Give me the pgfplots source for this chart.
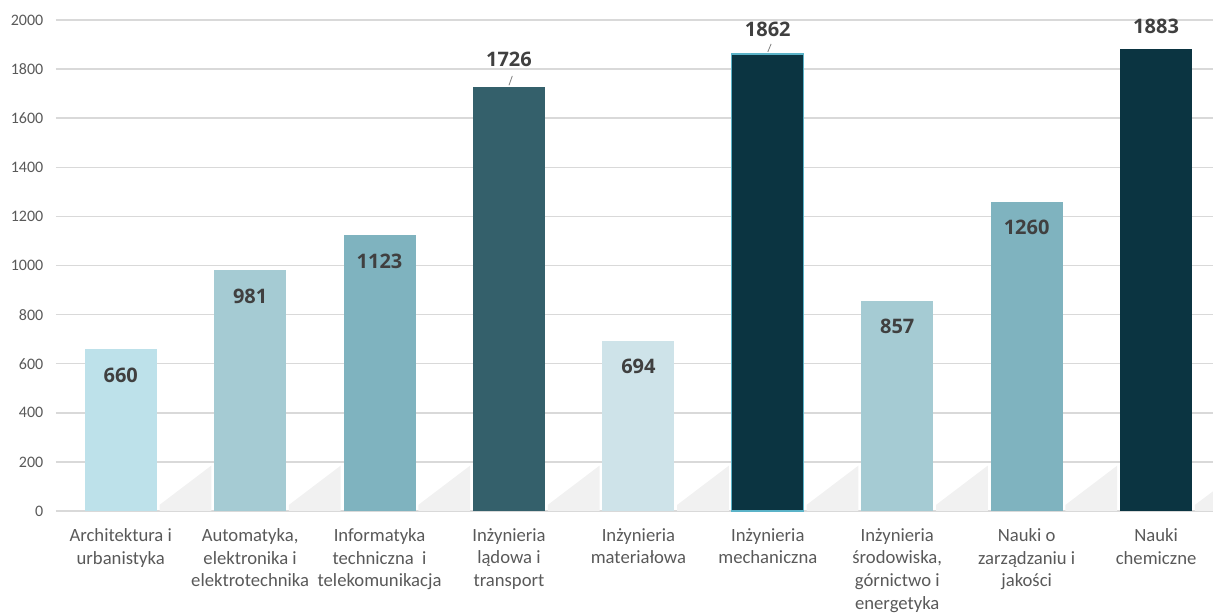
\documentclass[border=0pt]{standalone}
\usepackage{fontspec}
\setmainfont{Carlito}
\newfontfamily\valfont{Open Sans}
\usepackage{pgfplots}
\pgfplotsset{compat=1.18}
\definecolor{c1}{HTML}{BDE1EA}
\definecolor{c2}{HTML}{A5CBD3}
\definecolor{c3}{HTML}{7FB3BF}
\definecolor{c4}{HTML}{34606B}
\definecolor{c5}{HTML}{CEE3E9}
\definecolor{c6}{HTML}{0B3441}
\definecolor{cedge}{HTML}{5BB3C8}
\definecolor{gridgray}{HTML}{D9D9D9}
\definecolor{shadow}{HTML}{F1F1F1}
\definecolor{tickgray}{HTML}{595959}
\definecolor{valgray}{HTML}{404040}
\begin{document}
\begin{tikzpicture}
\begin{axis}[
  at={(0,0)}, anchor=south west,
  scale only axis, width=867.75pt, height=368.25pt,
  xmin=-0.5, xmax=8.44, ymin=0, ymax=2000,
  ytick={0,200,...,2000},
  xtick={0,...,8},
  xticklabels={{Architektura i\\urbanistyka},{Automatyka,\\elektronika i\\elektrotechnika},{Informatyka\\techniczna~ i\\telekomunikacja},{Inżynieria\\lądowa i\\transport},{Inżynieria\\materiałowa},{Inżynieria\\mechaniczna},{Inżynieria\\środowiska,\\górnictwo i\\energetyka},{Nauki o\\zarządzaniu i\\jakości},{Nauki\\chemiczne}},
  axis line style={draw=none},
  major tick length=0pt,
  ymajorgrids, grid style={draw=gridgray, line width=1.1pt},
  /pgf/number format/assume math mode=true,
  /pgf/number format/1000 sep={},
  yticklabel style={font=\fontsize{12}{14}\selectfont, text=tickgray, xshift=-6pt},
  xticklabel style={font=\fontsize{14}{17}\selectfont, text=tickgray, align=center, yshift=-9.5pt, inner xsep=0pt},
  ybar, bar width=54pt, bar shift=0pt,
  every node near coord/.append style={font=\valfont\bfseries\fontsize{15}{18}\selectfont, text=valgray, /pgf/number format/1000 sep={}},
  clip=false,
]
% subtle shadows in the gaps
\addplot[sharp plot, fill=shadow, draw=none, forget plot] coordinates {(0.30,0) (0.30,25) (0.70,185) (0.70,0)} --cycle;
\addplot[sharp plot, fill=shadow, draw=none, forget plot] coordinates {(1.30,0) (1.30,25) (1.70,185) (1.70,0)} --cycle;
\addplot[sharp plot, fill=shadow, draw=none, forget plot] coordinates {(2.30,0) (2.30,25) (2.70,185) (2.70,0)} --cycle;
\addplot[sharp plot, fill=shadow, draw=none, forget plot] coordinates {(3.30,0) (3.30,25) (3.70,185) (3.70,0)} --cycle;
\addplot[sharp plot, fill=shadow, draw=none, forget plot] coordinates {(4.30,0) (4.30,25) (4.70,185) (4.70,0)} --cycle;
\addplot[sharp plot, fill=shadow, draw=none, forget plot] coordinates {(5.30,0) (5.30,25) (5.70,185) (5.70,0)} --cycle;
\addplot[sharp plot, fill=shadow, draw=none, forget plot] coordinates {(6.30,0) (6.30,25) (6.70,185) (6.70,0)} --cycle;
\addplot[sharp plot, fill=shadow, draw=none, forget plot] coordinates {(7.30,0) (7.30,25) (7.70,185) (7.70,0)} --cycle;
\addplot[sharp plot, fill=shadow, draw=none, forget plot] coordinates {(8.30,0) (8.30,25) (8.44,80) (8.44,0)} --cycle;
% bars
\addplot[fill=c1, draw=none, nodes near coords, every node near coord/.append style={anchor=center, yshift=-19.5pt}] coordinates {(0,660)};
\addplot[fill=c2, draw=none, nodes near coords, every node near coord/.append style={anchor=center, yshift=-19.5pt}] coordinates {(1,981)};
\addplot[fill=c3, draw=none, nodes near coords, every node near coord/.append style={anchor=center, yshift=-19.5pt}] coordinates {(2,1123)};
\addplot[fill=c4, draw=none, nodes near coords, every node near coord/.append style={anchor=center, yshift=21pt}] coordinates {(3,1726)};
\addplot[fill=c5, draw=none, nodes near coords, every node near coord/.append style={anchor=center, yshift=-19.5pt}] coordinates {(4,694)};
\addplot[fill=c6, draw=cedge, line width=1pt, nodes near coords, every node near coord/.append style={anchor=center, yshift=18.75pt}] coordinates {(5,1862)};
\addplot[fill=c2, draw=none, nodes near coords, every node near coord/.append style={anchor=center, yshift=-19.5pt}] coordinates {(6,857)};
\addplot[fill=c3, draw=none, nodes near coords, every node near coord/.append style={anchor=center, yshift=-19.5pt}] coordinates {(7,1260)};
\addplot[fill=c6, draw=none, nodes near coords, every node near coord/.append style={anchor=center, yshift=16.5pt}] coordinates {(8,1883)};
\draw[gray, line width=0.6pt] (axis cs:3,1726) ++(0pt,1.5pt) -- ++(2.5pt,7pt);
\draw[gray, line width=0.6pt] (axis cs:5,1862) ++(0pt,1.5pt) -- ++(2.5pt,6pt);
\end{axis}
\pgfresetboundingbox
\path[use as bounding box] (-42pt,-76.5pt) rectangle (867.75pt,383.25pt);
\end{tikzpicture}
\end{document}
